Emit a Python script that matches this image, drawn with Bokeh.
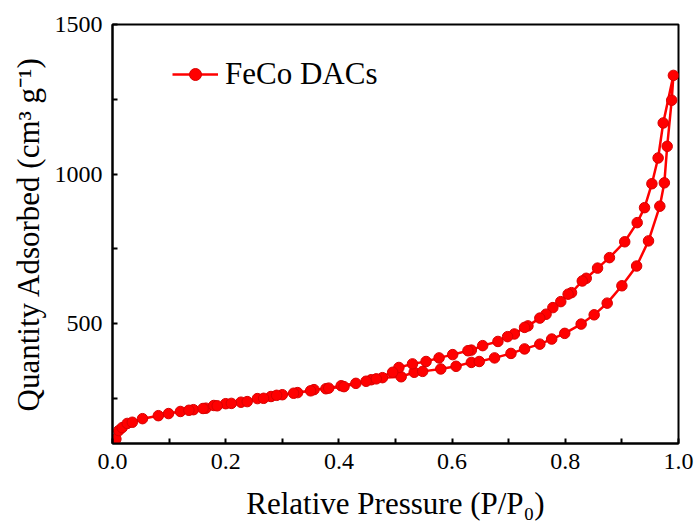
from bokeh.plotting import figure
from bokeh.models import ColumnDataSource, FixedTicker, NumeralTickFormatter, Range1d
from bokeh.embed import file_html
from bokeh.resources import INLINE

# Adsorption branch (P/P0, quantity adsorbed cm3/g)
ads_x = [0.002, 0.006, 0.011, 0.017, 0.026, 0.035, 0.053, 0.081, 0.099, 0.12,
         0.143, 0.165, 0.179, 0.2, 0.227, 0.256, 0.28, 0.30, 0.327, 0.356,
         0.377, 0.404, 0.43, 0.457, 0.477, 0.51, 0.533, 0.548, 0.58, 0.607,
         0.634, 0.648, 0.675, 0.704, 0.728, 0.755, 0.776, 0.799, 0.828, 0.851,
         0.874, 0.9, 0.926, 0.947, 0.967, 0.975, 0.98, 0.988, 0.991]
ads_y = [100, 115, 143, 153, 167, 171, 183, 193, 200, 207,
         213, 218, 227, 233, 238, 250, 257, 263, 270, 280,
         283, 293, 301, 313, 320, 323, 338, 341, 349, 358,
         371, 374, 386, 401, 416, 432, 449, 468, 499, 530,
         569, 627, 693, 777, 893, 971, 1093, 1247, 1330]

# Desorption branch
des_x = [0.973, 0.964, 0.953, 0.94, 0.927, 0.905, 0.878, 0.857, 0.837, 0.83,
         0.811, 0.805, 0.792, 0.778, 0.766, 0.755, 0.734, 0.728, 0.71, 0.698,
         0.681, 0.654, 0.634, 0.628, 0.601, 0.577, 0.554, 0.53, 0.506, 0.495,
         0.466, 0.448, 0.409, 0.382, 0.35, 0.32, 0.29, 0.267, 0.238, 0.21,
         0.185, 0.16, 0.135]
des_y = [1171, 1054, 968, 888, 838, 774, 721, 686, 652, 643,
         604, 599, 574, 554, 532, 519, 493, 488, 466, 457,
         441, 427, 412, 410, 397, 386, 374, 366, 354, 338,
         316, 308, 290, 285, 276, 268, 261, 251, 240, 234,
         226, 217, 211]

x_ticks = [0.0, 0.2, 0.4, 0.6, 0.8, 1.0]
x_minor = [0.1, 0.3, 0.5, 0.7, 0.9]
y_ticks = [500, 1000, 1500]
y_minor = [250, 750, 1250]
series_name = "FeCo DACs"

src = ColumnDataSource(data=dict(x=ads_x + des_x, y=ads_y + des_y))

FONT = "Liberation Serif"

p = figure(width=697, height=530, output_backend="svg", toolbar_location=None,
           x_range=Range1d(0, 1.0), y_range=Range1d(100, 1500),
           min_border_left=112, min_border_right=19, min_border_top=24,
           min_border_bottom=87)
p.xgrid.visible = False
p.ygrid.visible = False
p.outline_line_color = "black"
p.outline_line_width = 2
p.background_fill_color = "white"
p.border_fill_color = "white"

p.line("x", "y", source=src, line_color="#ff0000", line_width=2.5,
       legend_label=series_name)
p.scatter("x", "y", source=src, size=10.5, fill_color="#ff0000",
          line_color="#d80000", line_width=1, legend_label=series_name)

p.xaxis.ticker = FixedTicker(ticks=x_ticks, minor_ticks=x_minor)
p.yaxis.ticker = FixedTicker(ticks=y_ticks, minor_ticks=y_minor)
p.xaxis.formatter = NumeralTickFormatter(format="0.0")

for ax in (p.xaxis, p.yaxis):
    ax.axis_line_width = 2
    ax.axis_line_color = "black"
    ax.major_tick_in = 5
    ax.major_tick_out = 0
    ax.minor_tick_in = 5
    ax.minor_tick_out = 0
    ax.major_tick_line_width = 2
    ax.minor_tick_line_width = 2
    ax.major_label_text_font = FONT
    ax.major_label_text_font_size = "24px"
    ax.major_label_text_color = "black"
    ax.axis_label_text_font = FONT
    ax.axis_label_text_font_size = "31px"
    ax.axis_label_text_font_style = "normal"
    ax.axis_label_text_color = "black"

p.xaxis.axis_label = "Relative Pressure (P/P\u2080)"
p.yaxis.axis_label = "Quantity Adsorbed (cm\u00b3 g\u207b\u00b9)"
p.xaxis.major_label_standoff = 10
p.yaxis.major_label_standoff = 10
p.xaxis.axis_label_standoff = 14
p.yaxis.axis_label_standoff = 6

lg = p.legend[0]
lg.location = (60, 351)
lg.border_line_color = None
lg.background_fill_alpha = 0
lg.padding = 0
lg.margin = 0
lg.glyph_width = 46
lg.glyph_height = 30
lg.label_height = 30
lg.label_standoff = 7
lg.label_text_font = FONT
lg.label_text_font_size = "31px"
lg.label_text_color = "black"

open("out.html", "w").write(file_html(p, INLINE))
